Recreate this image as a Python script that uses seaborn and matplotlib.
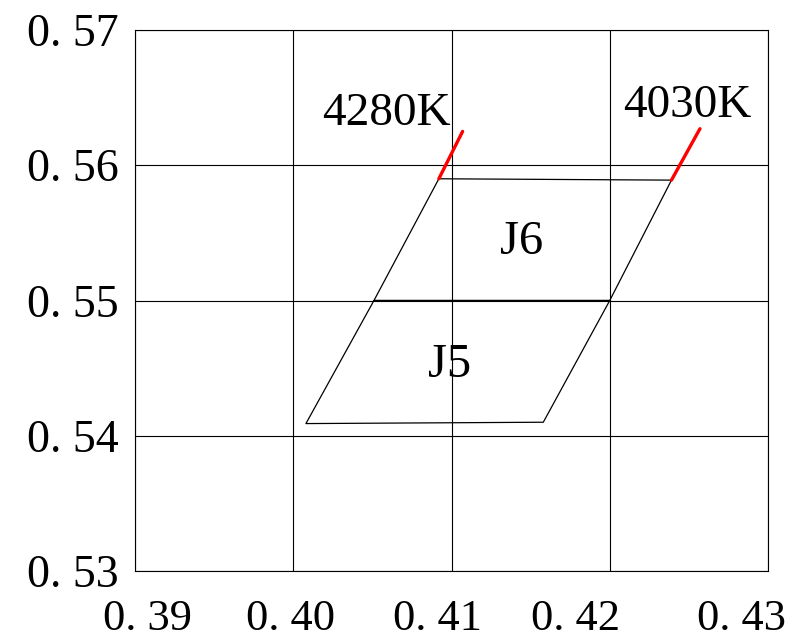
import numpy as np
import pandas as pd
import matplotlib
matplotlib.use("Agg")
import matplotlib.pyplot as plt
import matplotlib.transforms as mtransforms
import seaborn as sns

# chromaticity bins (CIE x, y)
j6_x = [0.4092, 0.4239, 0.4200, 0.4051, 0.4092]
j6_y = [0.5590, 0.5589, 0.5500, 0.5500, 0.5590]
j5_x = [0.4051, 0.4200, 0.4158, 0.4008, 0.4051]
j5_y = [0.5500, 0.5500, 0.5410, 0.5409, 0.5500]

# CCT isotherm stubs (red)
cct_4280_x = [0.4092, 0.4107]
cct_4280_y = [0.5590, 0.5625]
cct_4030_x = [0.4239, 0.4257]
cct_4030_y = [0.5589, 0.5627]

x_ticks = [0.39, 0.40, 0.41, 0.42, 0.43]
y_ticks = [0.53, 0.54, 0.55, 0.56, 0.57]
x_tick_labels = ["0. 39", "0. 40", "0. 41", "0. 42", "0. 43"]
y_tick_labels = ["0. 53", "0. 54", "0. 55", "0. 56", "0. 57"]

bin_names = ["J6", "J5"]
bin_label_pos = [(0.4144, 0.5543), (0.4099, 0.5452)]
cct_names = ["4280K", "4030K"]
cct_label_pos = [(0.4059, 0.5638), (0.4249, 0.5644)]

sns.set_style("white")
plt.rcParams["font.family"] = ["Liberation Serif", "DejaVu Serif"]
plt.rcParams["text.color"] = "black"
plt.rcParams["xtick.color"] = "black"
plt.rcParams["ytick.color"] = "black"

bins = pd.concat([
    pd.DataFrame({"x": j6_x, "y": j6_y, "bin": "J6"}),
    pd.DataFrame({"x": j5_x, "y": j5_y, "bin": "J5"}),
])
cct = pd.concat([
    pd.DataFrame({"x": cct_4280_x, "y": cct_4280_y, "cct": "4280K"}),
    pd.DataFrame({"x": cct_4030_x, "y": cct_4030_y, "cct": "4030K"}),
])

fig = plt.figure(figsize=(7.98, 6.41), dpi=100)
ax = fig.add_axes([0.1692, 0.1092, 0.7932, 0.8440])

sns.lineplot(data=bins, x="x", y="y", units="bin", estimator=None, sort=False,
             color="black", linewidth=0.9, ax=ax, legend=False)
sns.lineplot(data=cct, x="x", y="y", units="cct", estimator=None, sort=False,
             color="#ff0000", linewidth=2.4, ax=ax, legend=False)

ax.set_xlim(0.39, 0.43)
ax.set_ylim(0.53, 0.57)
ax.set_xticks(x_ticks)
ax.set_yticks(y_ticks)
ax.set_xticklabels(x_tick_labels, fontsize=32)
ax.set_yticklabels(y_tick_labels, fontsize=33)
ax.tick_params(axis="x", length=0, pad=20)
ax.tick_params(axis="y", length=0, pad=12)
ax.grid(True, color="black", linewidth=0.8)
for s in ax.spines.values():
    s.set_color("black")
    s.set_linewidth(0.8)
ax.set_xlabel("")
ax.set_ylabel("")

# the x labels in the original sit a bit off their ticks
x_label_shift = [12, -3, -14, -34, -26]
for lab, dx in zip(ax.get_xticklabels(), x_label_shift):
    lab.set_transform(lab.get_transform() +
                      mtransforms.ScaledTranslation(dx / 100, 0, fig.dpi_scale_trans))

for name, (tx, ty) in zip(bin_names, bin_label_pos):
    ax.text(tx, ty, name, fontsize=35, ha="center", va="center")
for name, (tx, ty) in zip(cct_names, cct_label_pos):
    ax.text(tx, ty, name, fontsize=34, ha="center", va="center")

fig.savefig("out.png", dpi=100)
